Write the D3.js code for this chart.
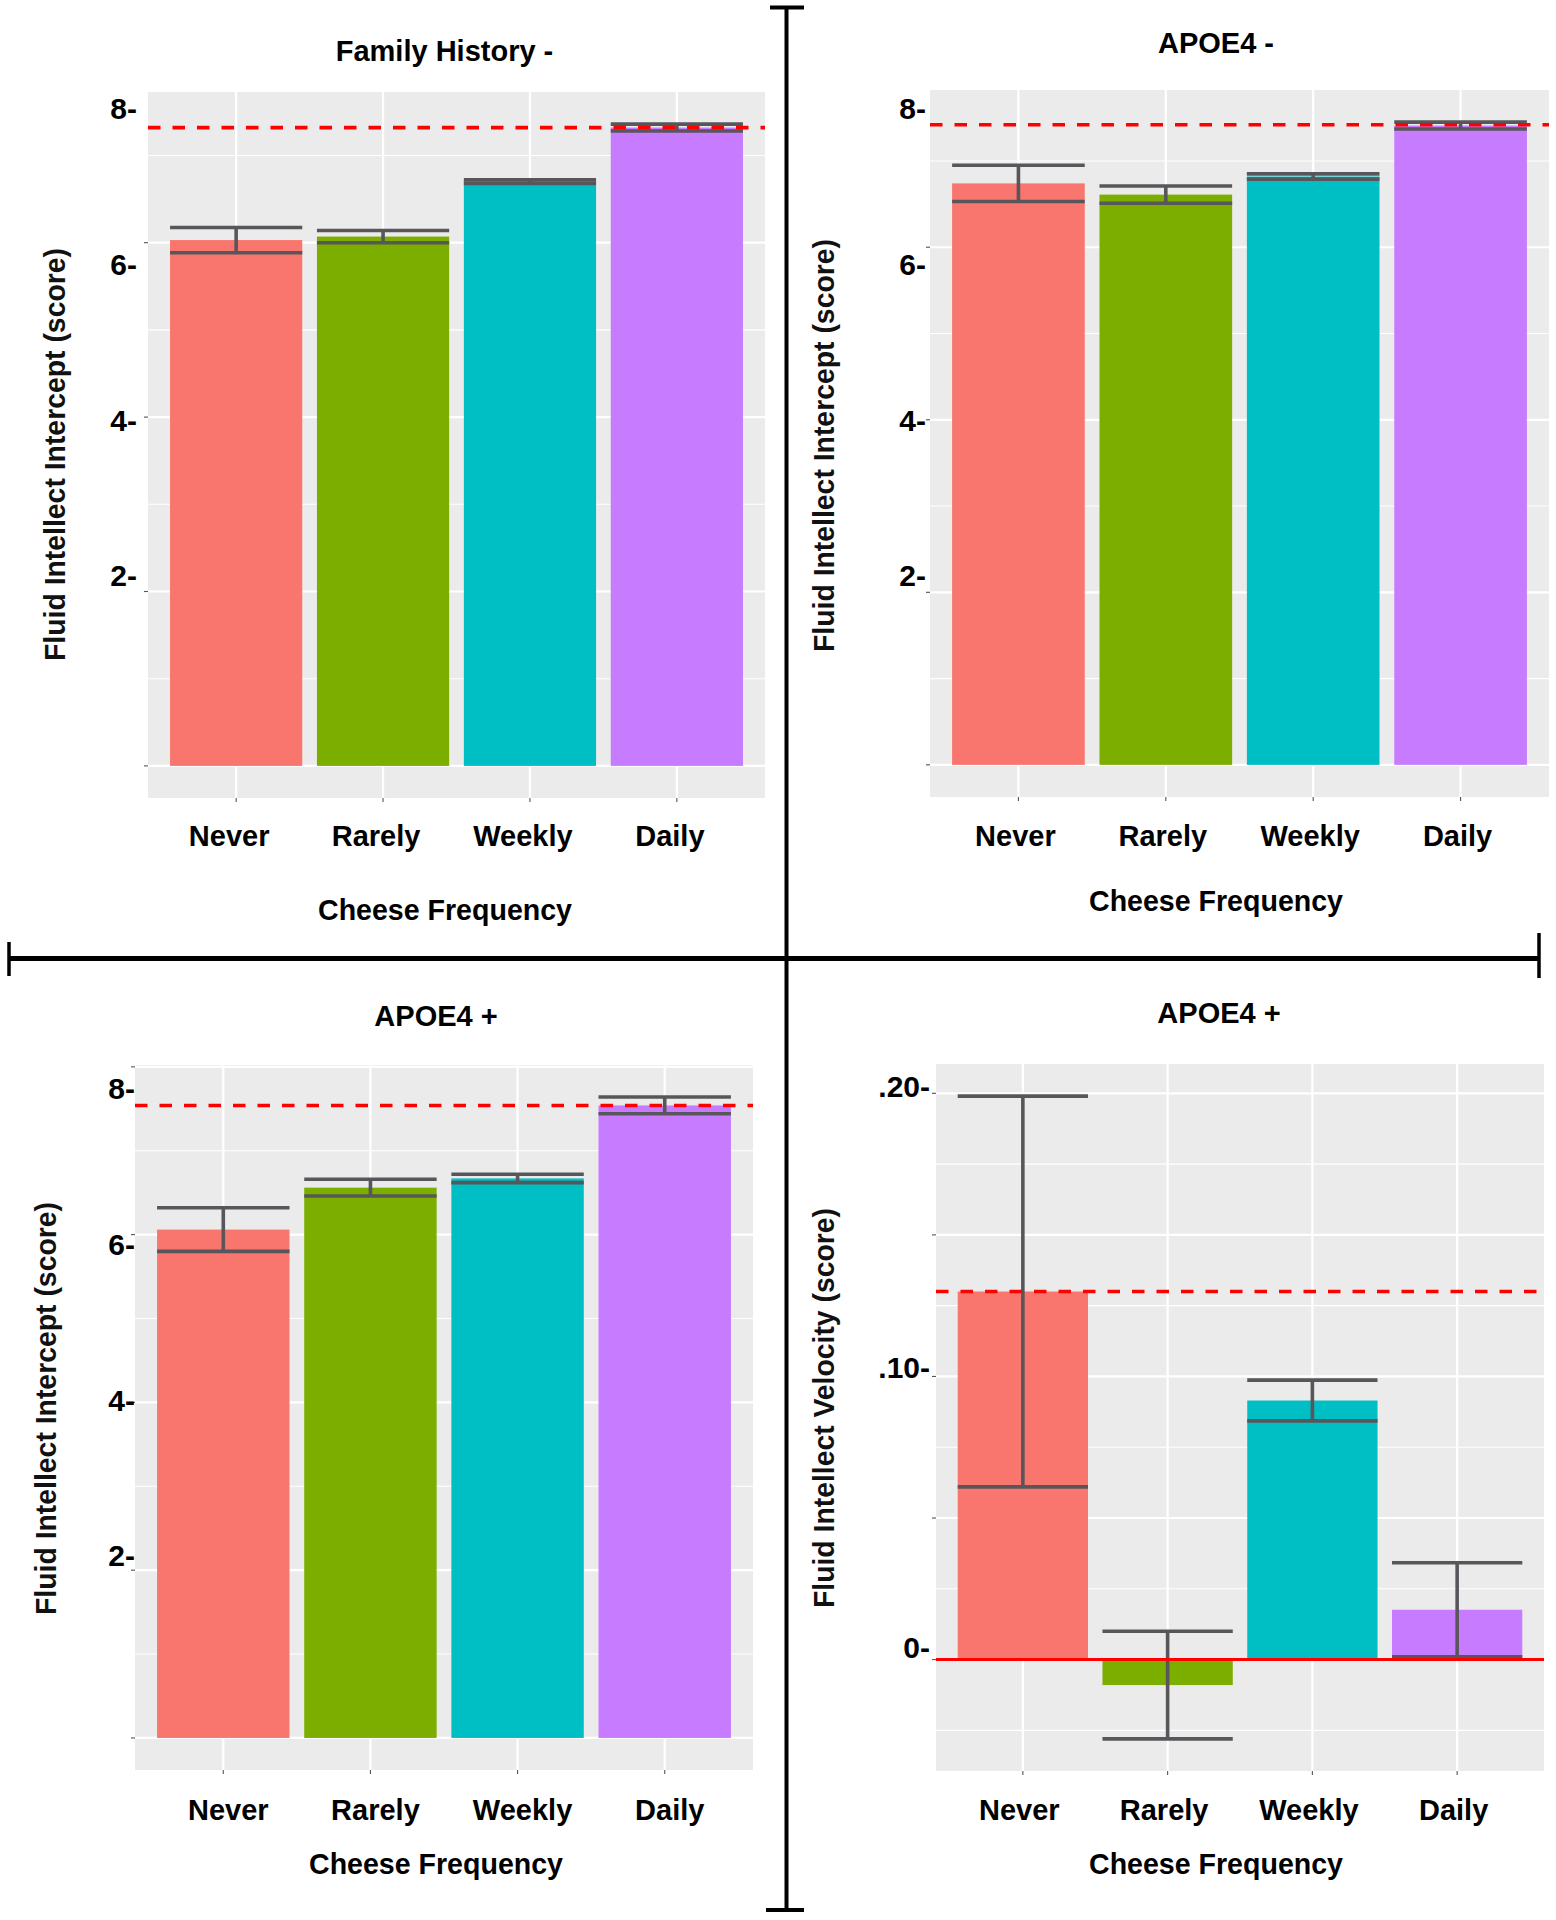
<!DOCTYPE html>
<html>
<head>
<meta charset="utf-8">
<script src="https://cdn.jsdelivr.net/npm/d3@7"></script>
<style>
  html, body { margin: 0; padding: 0; background: #ffffff; }
  svg { display: block; }
</style>
</head>
<body>
<svg id="chart" width="1556" height="1920"></svg>
<script>
// ---------------- DATA ----------------
const categories = ["Never", "Rarely", "Weekly", "Daily"];
const barColors = ["#F8766D", "#7CAE00", "#00BFC4", "#C77CFF"];

// Family History - : fluid intellect intercept
const famHistNegMean = [6.03, 6.07, 6.70, 7.32];
const famHistNegSE   = [0.145, 0.07, 0.02, 0.04];
const famHistNegRef  = 7.32;

// APOE4 - : fluid intellect intercept
const apoe4NegMean = [6.74, 6.61, 6.82, 7.41];
const apoe4NegSE   = [0.21, 0.10, 0.03, 0.04];
const apoe4NegRef  = 7.42;

// APOE4 + : fluid intellect intercept
const apoe4PosMean = [6.06, 6.56, 6.67, 7.54];
const apoe4PosSE   = [0.26, 0.10, 0.05, 0.10];
const apoe4PosRef  = 7.54;

// APOE4 + : fluid intellect velocity
const apoe4PosVelMean = [0.130, -0.009, 0.0915, 0.0176];
const apoe4PosVelSE   = [0.069, 0.019, 0.0072, 0.0166];
const apoe4PosVelRef  = 0.130;
const apoe4PosVelZero = 0;

// tick labels as printed on the figure
const interceptTickLabels = [2, 4, 6, 8];
const velocityTickLabels  = [0, 0.10, 0.20];

// ---------------- LAYOUT ----------------
const FONT = "'Liberation Sans', Arial, Helvetica, sans-serif";
const fmtIntercept = d => d + "-";
const fmtVelocity = d => (d === 0 ? "0" : d3.format(".2f")(d).replace(/^0/, "")) + "-";

const panels = [
  { title: "Family History -", yTitle: "Fluid Intellect Intercept (score)", yTitleLen: 413,
    mean: famHistNegMean, se: famHistNegSE, dashed: famHistNegRef, solid: null,
    tickLabels: interceptTickLabels, fmt: fmtIntercept,
    box: { x0: 148, x1: 765, y0: 92, y1: 798 },
    labelRange: [575, 108], labelRight: 137,
    title_xy: [444.5, 61], xTitle_xy: [445, 920], yTitle_xy: [64.5, 454.5],
    xLabelBase: 846, xLabelShift: -7 },
  { title: "APOE4 -", yTitle: "Fluid Intellect Intercept (score)", yTitleLen: 413,
    mean: apoe4NegMean, se: apoe4NegSE, dashed: apoe4NegRef, solid: null,
    tickLabels: interceptTickLabels, fmt: fmtIntercept,
    box: { x0: 930, x1: 1549, y0: 90, y1: 797 },
    labelRange: [575, 108], labelRight: 926,
    title_xy: [1216, 53], xTitle_xy: [1216, 910.5], yTitle_xy: [833.5, 445.5],
    xLabelBase: 846, xLabelShift: -3 },
  { title: "APOE4 +", yTitle: "Fluid Intellect Intercept (score)", yTitleLen: 413,
    mean: apoe4PosMean, se: apoe4PosSE, dashed: apoe4PosRef, solid: null,
    tickLabels: interceptTickLabels, fmt: fmtIntercept,
    box: { x0: 135, x1: 753, y0: 1065, y1: 1770 },
    labelRange: [1555, 1088], labelRight: 135,
    title_xy: [436, 1025.5], xTitle_xy: [436, 1873.5], yTitle_xy: [55.7, 1408.5],
    xLabelBase: 1820, xLabelShift: 5 },
  { title: "APOE4 +", yTitle: "Fluid Intellect Velocity (score)", yTitleLen: 400,
    mean: apoe4PosVelMean, se: apoe4PosVelSE, dashed: apoe4PosVelRef, solid: apoe4PosVelZero,
    tickLabels: velocityTickLabels, fmt: fmtVelocity,
    box: { x0: 936, x1: 1544, y0: 1064, y1: 1771 },
    labelRange: [1647, 1086], labelRight: 930,
    title_xy: [1219, 1023], xTitle_xy: [1216, 1874], yTitle_xy: [833.7, 1408],
    xLabelBase: 1820, xLabelShift: -3.5 }
];

const svg = d3.select("#chart");
svg.append("rect").attr("width", 1556).attr("height", 1920).attr("fill", "#ffffff");

panels.forEach(p => {
  const g = svg.append("g");
  const { x0, x1, y0, y1 } = p.box;
  const lows = p.mean.map((m, i) => m - p.se[i]);
  const highs = p.mean.map((m, i) => m + p.se[i]);
  const refs = [p.dashed].concat(p.solid === null ? [] : [p.solid]);
  const lo = Math.min(0, d3.min(lows), d3.min(refs));
  const hi = Math.max(0, d3.max(highs), d3.max(refs));
  const pad = (hi - lo) * 0.05;
  const y = d3.scaleLinear().domain([lo - pad, hi + pad]).range([y1, y0]);
  const x = d3.scaleBand().domain(categories).range([x0, x1]).paddingInner(0.1).paddingOuter(0.15);
  const cx = c => x(c) + x.bandwidth() / 2;

  // panel background
  g.append("rect").attr("x", x0).attr("y", y0).attr("width", x1 - x0).attr("height", y1 - y0)
    .attr("fill", "#EBEBEB");

  // grid
  const majors = y.ticks(5);
  const step = majors[1] - majors[0];
  const minors = d3.range(majors[0] - step / 2, hi + pad + step, step)
    .filter(v => v > lo - pad && v < hi + pad && !majors.some(m => Math.abs(m - v) < 1e-9));
  g.append("g").selectAll("line").data(minors).join("line")
    .attr("x1", x0).attr("x2", x1).attr("y1", d => y(d)).attr("y2", d => y(d))
    .attr("stroke", "#ffffff").attr("stroke-width", 1.1);
  g.append("g").selectAll("line").data(majors).join("line")
    .attr("x1", x0).attr("x2", x1).attr("y1", d => y(d)).attr("y2", d => y(d))
    .attr("stroke", "#ffffff").attr("stroke-width", 2.2);
  g.append("g").selectAll("line").data(categories).join("line")
    .attr("x1", d => cx(d)).attr("x2", d => cx(d)).attr("y1", y0).attr("y2", y1)
    .attr("stroke", "#ffffff").attr("stroke-width", 2.2);

  // bars
  g.append("g").selectAll("rect").data(categories).join("rect")
    .attr("x", d => x(d)).attr("width", x.bandwidth())
    .attr("y", (d, i) => y(Math.max(0, p.mean[i])))
    .attr("height", (d, i) => Math.abs(y(p.mean[i]) - y(0)))
    .attr("fill", (d, i) => barColors[i]);

  // error bars
  const eb = g.append("g").attr("stroke", "#58565A").attr("stroke-width", 3.6).attr("fill", "none");
  categories.forEach((c, i) => {
    const top = y(highs[i]), bot = y(lows[i]);
    eb.append("line").attr("x1", cx(c)).attr("x2", cx(c)).attr("y1", top).attr("y2", bot);
    eb.append("line").attr("x1", x(c)).attr("x2", x(c) + x.bandwidth()).attr("y1", top).attr("y2", top);
    eb.append("line").attr("x1", x(c)).attr("x2", x(c) + x.bandwidth()).attr("y1", bot).attr("y2", bot);
  });

  // reference lines
  if (p.solid !== null) {
    g.append("line").attr("x1", x0).attr("x2", x1).attr("y1", y(p.solid)).attr("y2", y(p.solid))
      .attr("stroke", "#FF0000").attr("stroke-width", 3);
  }
  g.append("line").attr("x1", x0).attr("x2", x1).attr("y1", y(p.dashed)).attr("y2", y(p.dashed))
    .attr("stroke", "#FF0000").attr("stroke-width", 3.6).attr("stroke-dasharray", "12.5 12");

  // small axis tick marks
  g.append("g").selectAll("line").data(majors).join("line")
    .attr("x1", x0 - 4).attr("x2", x0).attr("y1", d => y(d)).attr("y2", d => y(d))
    .attr("stroke", "#555").attr("stroke-width", 1.1);
  g.append("g").selectAll("line").data(categories).join("line")
    .attr("x1", d => cx(d)).attr("x2", d => cx(d)).attr("y1", y1).attr("y2", y1 + 4)
    .attr("stroke", "#555").attr("stroke-width", 1.1);

  // printed y tick labels
  const labelScale = d3.scaleLinear().domain(d3.extent(p.tickLabels)).range(p.labelRange);
  const yAxis = d3.axisLeft(labelScale).tickValues(p.tickLabels).tickFormat(p.fmt)
    .tickSize(0).tickPadding(0);
  const ya = g.append("g").attr("transform", `translate(${p.labelRight},0)`).call(yAxis);
  ya.select(".domain").remove();
  ya.attr("font-family", FONT).attr("font-size", 30).attr("font-weight", "bold");
  ya.selectAll("text").attr("fill", "#000").attr("dy", "0.36em");

  // x tick labels
  const xAxis = d3.axisBottom(x).tickSize(0).tickPadding(0);
  const xa = g.append("g").attr("transform", `translate(${p.xLabelShift},${p.xLabelBase})`).call(xAxis);
  xa.select(".domain").remove();
  xa.attr("font-family", FONT).attr("font-size", 29).attr("font-weight", "bold");
  xa.selectAll("text").attr("y", 0).attr("dy", 0).attr("fill", "#000");

  // titles
  g.append("text").attr("x", p.title_xy[0]).attr("y", p.title_xy[1])
    .attr("text-anchor", "middle").attr("font-family", FONT).attr("font-size", 29)
    .attr("font-weight", "bold").attr("fill", "#000").text(p.title);
  g.append("text").attr("x", p.xTitle_xy[0]).attr("y", p.xTitle_xy[1])
    .attr("text-anchor", "middle").attr("font-family", FONT).attr("font-size", 30)
    .attr("font-weight", "bold").attr("fill", "#000")
    .attr("textLength", 254).attr("lengthAdjust", "spacingAndGlyphs")
    .text("Cheese Frequency");
  g.append("text")
    .attr("transform", `translate(${p.yTitle_xy[0]},${p.yTitle_xy[1]}) rotate(-90)`)
    .attr("text-anchor", "middle").attr("font-family", FONT).attr("font-size", 29.5)
    .attr("font-weight", "bold").attr("fill", "#111")
    .attr("textLength", p.yTitleLen).attr("lengthAdjust", "spacingAndGlyphs")
    .text(p.yTitle);
});

// quadrant divider cross
const cross = svg.append("g").attr("stroke", "#000").attr("fill", "none");
cross.append("line").attr("x1", 786.5).attr("x2", 786.5).attr("y1", 7.5).attr("y2", 1910).attr("stroke-width", 4);
cross.append("line").attr("x1", 770).attr("x2", 804).attr("y1", 7.5).attr("y2", 7.5).attr("stroke-width", 4);
cross.append("line").attr("x1", 766).attr("x2", 804).attr("y1", 1910).attr("y2", 1910).attr("stroke-width", 4);
cross.append("line").attr("x1", 9).attr("x2", 1539).attr("y1", 958.5).attr("y2", 958.5).attr("stroke-width", 5);
cross.append("line").attr("x1", 9).attr("x2", 9).attr("y1", 942).attr("y2", 976).attr("stroke-width", 3.5);
cross.append("line").attr("x1", 1539).attr("x2", 1539).attr("y1", 933).attr("y2", 978).attr("stroke-width", 3.5);
</script>
</body>
</html>
